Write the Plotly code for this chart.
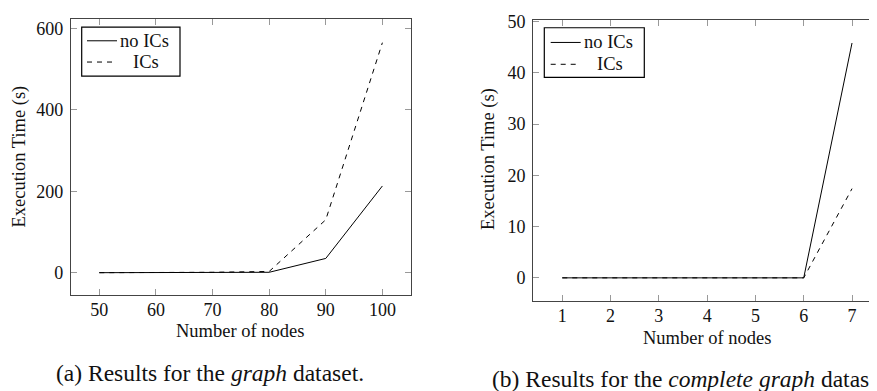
import plotly.graph_objects as go

# ---- data ----
nodes_a = [50, 60, 70, 80, 90, 100]
no_ics_a = [0, 0, 0, 1, 35, 213]
ics_a = [0, 0, 1, 3, 130, 565]

nodes_b = [1, 2, 3, 4, 5, 6, 7]
no_ics_b = [0, 0, 0, 0, 0, 0, 45.8]
ics_b = [0, 0, 0, 0, 0, 0, 17.4]

xticks_a = [50, 60, 70, 80, 90, 100]
yticks_a = [0, 200, 400, 600]
xticks_b = [1, 2, 3, 4, 5, 6, 7]
yticks_b = [0, 10, 20, 30, 40, 50]

W, H = 877, 391
OFF = 8  # page body margin offset
FONT = "Liberation Serif"
FS_TICK = 18
FS_LAB = 18.5
FS_CAP = 23.5
DASH = "5px,5px"


def px(x):
    return (x - OFF) / W


def py(y):
    return 1 - (y - OFF) / H


fig = go.Figure()
fig.add_trace(go.Scatter(x=nodes_a, y=no_ics_a, mode="lines", line=dict(color="black", width=1),
                         xaxis="x", yaxis="y", showlegend=False))
fig.add_trace(go.Scatter(x=nodes_a, y=ics_a, mode="lines", line=dict(color="black", width=1, dash=DASH),
                         xaxis="x", yaxis="y", showlegend=False))
fig.add_trace(go.Scatter(x=nodes_b, y=no_ics_b, mode="lines", line=dict(color="black", width=1),
                         xaxis="x2", yaxis="y2", showlegend=False))
fig.add_trace(go.Scatter(x=nodes_b, y=ics_b, mode="lines", line=dict(color="black", width=1, dash=DASH),
                         xaxis="x2", yaxis="y2", showlegend=False))

axis_common = dict(showgrid=False, zeroline=False, showline=True, linecolor="#444", linewidth=1.3,
                   ticks="inside", ticklen=6, tickwidth=1, tickcolor="#999", mirror="ticks",
                   ticklabeloverflow="allow",
                   tickfont=dict(family=FONT, size=FS_TICK, color="#111"))

fig.update_layout(
    width=W, height=H, margin=dict(l=0, r=0, t=0, b=0),
    plot_bgcolor="white", paper_bgcolor="white", showlegend=False,
    xaxis=dict(domain=[px(71), px(410.7)], range=[45, 105], tickvals=xticks_a, anchor="y",
               ticklabelstandoff=-2, **axis_common),
    yaxis=dict(domain=[py(292.7), py(10.7)], range=[-54.5, 624], tickvals=yticks_a, anchor="x",
               ticklabelstandoff=3, **axis_common),
    xaxis2=dict(domain=[px(533.3), px(881)], range=[0.4, 7.6], tickvals=xticks_b, anchor="y2",
                ticklabelstandoff=-2, **axis_common),
    yaxis2=dict(domain=[py(299.3), py(12)], range=[-4.58, 50.3], tickvals=yticks_b, anchor="x2",
                ticklabelstandoff=3, **axis_common),
)

tf = dict(family=FONT, size=FS_LAB, color="#111")
cf = dict(family=FONT, size=FS_CAP, color="#111")
ann = []


def text(x, y, s, font, xanchor="center", angle=0):
    ann.append(dict(x=px(x), y=py(y), text=s, showarrow=False, font=font, xref="paper", yref="paper",
                    xanchor=xanchor, yanchor="middle", textangle=angle, borderpad=0))


# axis titles
text(240, 330, "Number of nodes", tf)
text(706.7, 336.7, "Number of nodes", tf)
text(20, 151.5, "Execution Time (s)", tf, angle=-90)
text(488, 154, "Execution Time (s)", tf, angle=-90)
# captions
text(55, 372.7, "(a) Results for the <i>graph</i> dataset.", cf, xanchor="left")
text(490.7, 379, "(b) Results for the <i>complete graph</i> dataset.", cf, xanchor="left")

shapes = []


def legend(x0, x1, y0, y1, lx0, lx1, ly1, ly2, tx1, tx2c):
    shapes.append(dict(type="rect", xref="paper", yref="paper", x0=px(x0), x1=px(x1), y0=py(y1), y1=py(y0),
                       line=dict(color="black", width=1.2), fillcolor="white"))
    shapes.append(dict(type="line", xref="paper", yref="paper", x0=px(lx0), x1=px(lx1), y0=py(ly1), y1=py(ly1),
                       line=dict(color="black", width=1)))
    shapes.append(dict(type="line", xref="paper", yref="paper", x0=px(lx0), x1=px(lx1), y0=py(ly2), y1=py(ly2),
                       line=dict(color="black", width=1, dash=DASH)))
    text(tx1, ly1, "no ICs", tf, xanchor="left")
    text(tx2c, ly2, "ICs", tf, xanchor="center")


legend(81.7, 180, 19.3, 69.3, 87, 117, 33.3, 55, 119, 145.5)
legend(544.3, 644.3, 20, 70.7, 550.7, 580.7, 35, 57.3, 583, 610)

fig.update_layout(annotations=ann, shapes=shapes)
fig.write_html("out.html")
